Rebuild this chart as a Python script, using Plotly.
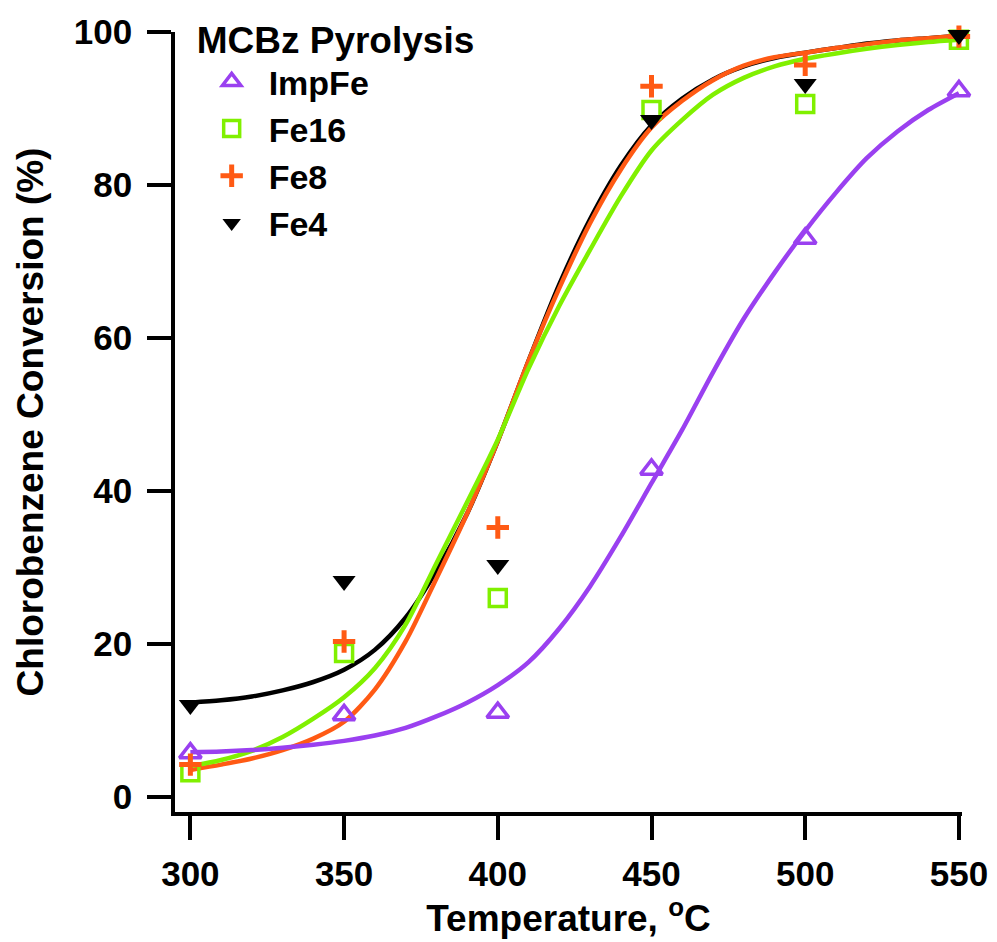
import plotly.graph_objects as go

# ---- measured data points ----
temps = [300, 350, 400, 450, 500, 550]
impfe = [5.7, 10.7, 11.0, 42.8, 73.0, 92.3]
fe16 = [3.2, 18.8, 26.0, 89.8, 90.6, 99.0]
fe8 = [4.2, 20.3, 35.2, 92.9, 95.7, 99.4]
fe4 = [12.0, 28.2, 30.3, 88.5, 93.2, 99.6]

# ---- fitted curves, every 10 degC ----
t_fit = [300, 310, 320, 330, 340, 350, 360, 370, 380, 390, 400, 410, 420,
         430, 440, 450, 460, 470, 480, 490, 500, 510, 520, 530, 540, 550]
impfe_fit = [5.8, 5.9, 6.1, 6.4, 6.8, 7.3, 8.0, 9.0, 10.5, 12.3, 14.6, 17.6, 22.0,
             27.5, 34.0, 41.0, 48.0, 55.5, 62.5, 68.5, 74.0, 79.0, 83.5, 87.0, 89.8, 92.0]
fe16_fit = [4.0, 4.8, 6.0, 7.8, 10.2, 13.0, 16.8, 22.5, 30.5, 38.5, 46.7, 56.0, 64.2,
            71.5, 78.5, 84.5, 88.5, 91.8, 94.0, 95.5, 96.5, 97.2, 97.8, 98.3, 98.7, 99.0]
fe8_fit = [3.5, 4.2, 5.0, 6.1, 7.6, 9.8, 14.0, 20.3, 28.5, 37.0, 46.5, 57.0, 66.5,
           75.0, 82.0, 87.5, 91.0, 93.7, 95.6, 96.7, 97.3, 97.9, 98.4, 98.9, 99.2, 99.5]
fe4_fit = [12.3, 12.6, 13.1, 13.9, 15.0, 16.6, 19.2, 23.4, 29.5, 37.0, 46.5, 57.0, 67.0,
           75.5, 82.5, 87.8, 91.3, 93.8, 95.5, 96.6, 97.3, 97.9, 98.5, 98.9, 99.2, 99.5]

x_ticks = [300, 350, 400, 450, 500, 550]
y_ticks = [0, 20, 40, 60, 80, 100]

PURPLE = "#9A40F0"
GREEN = "#80F000"
ORANGE = "#FF5A14"
BLACK = "#000000"
FONT = "Liberation Sans, Arial, sans-serif"

fig = go.Figure()

# fit lines (drawn first, below markers)
for y, c in [(fe4_fit, BLACK), (fe8_fit, ORANGE), (fe16_fit, GREEN), (impfe_fit, PURPLE)]:
    fig.add_trace(go.Scatter(x=t_fit, y=y, mode="lines", showlegend=False,
                             line=dict(color=c, width=4.5, shape="spline", smoothing=0.8),
                             hoverinfo="skip", cliponaxis=False))

# markers
fig.add_trace(go.Scatter(x=temps, y=impfe, mode="markers", name="ImpFe", cliponaxis=False,
                         marker=dict(symbol="triangle-up-open", size=19, color=PURPLE,
                                     line=dict(color=PURPLE, width=3.5))))
fig.add_trace(go.Scatter(x=temps, y=fe16, mode="markers", name="Fe16", cliponaxis=False,
                         marker=dict(symbol="square-open", size=17, color=GREEN,
                                     line=dict(color=GREEN, width=3.5))))
fig.add_trace(go.Scatter(x=temps, y=fe8, mode="markers", name="Fe8", cliponaxis=False,
                         marker=dict(symbol="cross-thin-open", size=16, color=ORANGE,
                                     line=dict(color=ORANGE, width=5))))
fig.add_trace(go.Scatter(x=temps, y=fe4, mode="markers", name="Fe4", cliponaxis=False,
                         marker=dict(symbol="triangle-down", size=20, color=BLACK,
                                     line=dict(width=0))))

axis_common = dict(
    showgrid=False, zeroline=False, showline=True, linecolor="black", linewidth=3.5,
    ticks="outside", ticklen=24, tickwidth=3.5, tickcolor="black",
    tickfont=dict(family=FONT, size=35, color="black", weight="bold"),
)

fig.update_layout(
    width=997, height=942,
    paper_bgcolor="white", plot_bgcolor="white",
    margin=dict(l=175, r=35, t=32, b=130, autoexpand=False),
    font=dict(family=FONT, color="black", weight="bold"),
    xaxis=dict(range=[295, 551], tickvals=x_ticks, ticklabelstandoff=4,
               title=dict(text="Temperature, <sup>o</sup>C", standoff=2,
                          font=dict(family=FONT, size=37, color="black", weight="bold")),
               automargin=False, **axis_common),
    yaxis=dict(range=[-2, 100], tickvals=y_ticks, ticklabelstandoff=8,
               title=dict(text="Chlorobenzene Conversion (%)", standoff=20,
                          font=dict(family=FONT, size=37, color="black", weight="bold")),
               automargin=False, **axis_common),
    legend=dict(x=0.025, y=1.035, xanchor="left", yanchor="top",
                bgcolor="rgba(0,0,0,0)", borderwidth=0, itemwidth=64,
                font=dict(family=FONT, size=34, color="black", weight="bold"),
                title=dict(text="MCBz Pyrolysis",
                           font=dict(family=FONT, size=37, color="black", weight="bold"))),
)

fig.write_html("out.html", config={"displayModeBar": False},
               post_script="document.body.style.margin='0px';document.body.style.overflow='hidden';")
